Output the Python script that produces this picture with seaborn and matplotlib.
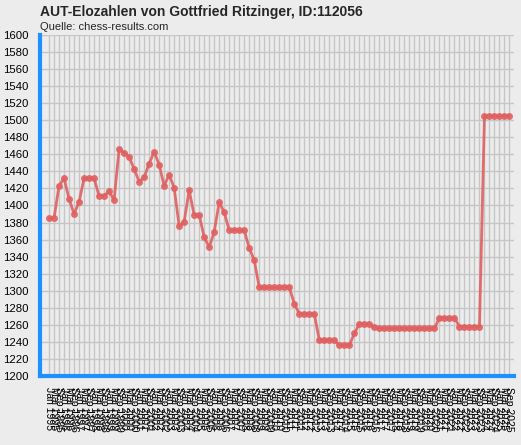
import numpy as np
import pandas as pd
import seaborn as sns
import matplotlib.pyplot as plt

sns.set_style('whitegrid')
plt.rcParams['font.family'] = ['Liberation Sans', 'DejaVu Sans']

years = list(range(1995, 2026))
months = ["Jan", "Mai", "Sep"]
labels = [f"{m} {y}" for y in years for m in months]

elo = [1385, 1385, 1423, 1432, 1408, 1390, 1404, 1432, 1432, 1432,
       1411, 1411, 1417, 1406, 1466, 1462, 1457, 1443, 1428, 1433,
       1449, 1463, 1448, 1423, 1436, 1421, 1376, 1381, 1418, 1389,
       1389, 1363, 1351, 1369, 1404, 1392, 1371, 1371, 1371, 1371,
       1350, 1336, 1304, 1304, 1304, 1304, 1304, 1304, 1304, 1285,
       1273, 1273, 1273, 1273, 1242, 1242, 1242, 1242, 1236, 1236,
       1236, 1250, 1261, 1261, 1261, 1257, 1256, 1256, 1256, 1256,
       1256, 1256, 1256, 1256, 1256, 1256, 1256, 1256, 1268, 1268,
       1268, 1268, 1258, 1258, 1258, 1258, 1258, 1505, 1505, 1505,
       1505, 1505, 1505]

df = pd.DataFrame({"idx": range(len(elo)), "elo": elo})

bg = '#ECECEC'
blue = '#1E90FF'
fig = plt.figure(figsize=(5.21, 4.45), dpi=100, facecolor=bg)
ax = fig.add_axes([40/521, 1-376/445, 474/521, 341/445])
ax.set_facecolor(bg)

sns.lineplot(data=df, x="idx", y="elo", ax=ax, color='#E06060', linewidth=2,
             marker='o', markersize=5, markeredgewidth=0, alpha=0.9)

ax.set_xlim(-1.8, 92.9)
ax.set_ylim(1200, 1600)
ax.set_yticks(range(1200, 1601, 20))
ax.set_xticks(range(len(elo)))
ax.set_xticklabels(labels, rotation=-90, fontsize=7.5, va='top', ha='center')
ax.tick_params(axis='y', labelsize=8.2, colors=blue, labelcolor='black', length=7, width=3, pad=1)
ax.tick_params(axis='x', colors=blue, labelcolor='black', length=6, width=2, pad=2)
ax.grid(True, color='#C6C6C6', linewidth=1)
ax.set_xlabel("")
ax.set_ylabel("")
for s in ['top', 'right']:
    ax.spines[s].set_visible(False)
for s in ['left', 'bottom']:
    ax.spines[s].set_color(blue)
    ax.spines[s].set_linewidth(3)

fig.text(40/521, 1-12/445, "AUT-Elozahlen von Gottfried Ritzinger, ID:112056",
         fontsize=10, fontweight='bold', va='center')
fig.text(40/521, 1-27/445, "Quelle: chess-results.com", fontsize=8, va='center')

plt.savefig('out.png', dpi=100, facecolor=bg)
